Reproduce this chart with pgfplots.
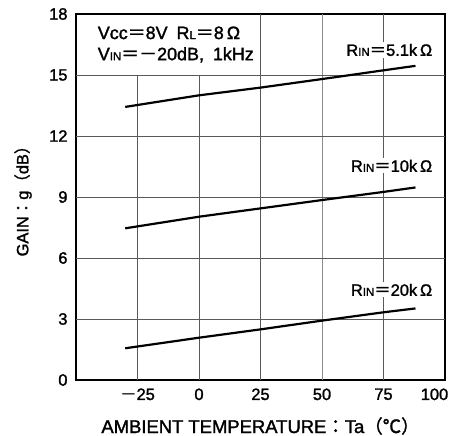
\documentclass[border=0pt]{standalone}
\usepackage{pgfplots}
\pgfplotsset{compat=1.18}
\usepackage{fontspec}
\setmainfont{Liberation Sans}[RawFeature={embolden=1.6}]
\newfontfamily\cjk{Noto Sans CJK JP}[RawFeature={embolden=1.2}]

\newcommand{\eq}{{\cjk ＝}}
\newcommand{\sm}[1]{{\fontsize{11.5}{11.5}\selectfont #1}}

\begin{document}
\begin{tikzpicture}[grd/.style={black!65, line width=0.9pt}]
\begin{axis}[
  scale only axis,
  width=369bp, height=366bp,
  xmin=-50, xmax=100, ymin=0, ymax=18,
  xtick={-25,0,25,50,75,100},
  xticklabels={{\cjk －}25,0,25,50,75,{\hspace*{-21bp}100}},
  ytick={0,3,...,18},
  major tick length=0pt,
  axis line style={line width=2pt},
  /pgf/number format/assume math mode=true,
  ticklabel style={font=\fontsize{16.5}{16.5}\selectfont},
  xticklabel style={yshift=-5bp},
  yticklabel style={xshift=-5bp},
  xlabel={AMBIENT TEMPERATURE{\cjk ：}Ta{\cjk （℃）}},
  ylabel={GAIN{\cjk ：}g{\cjk （}dB{\cjk ）}},
  xlabel style={font=\fontsize{18.5}{18.5}\selectfont,
    at={([yshift=-46bp]axis description cs:0.5,0)}, anchor=center},
  ylabel style={font=\fontsize{16.5}{16.5}\selectfont,
    at={([xshift=-53bp]axis description cs:0,0.5)}, anchor=center},
]
% grid, drawn by hand so that the box of conditions stays clear
\draw[grd] (axis cs:-25,0) -- (axis cs:-25,15);
\draw[grd] (axis cs:0,0) -- (axis cs:0,15);
\draw[grd] (axis cs:25,0) -- (axis cs:25,18);
\draw[grd, black!45] (axis cs:50,0) -- (axis cs:50,18);
\draw[grd] (axis cs:75,0) -- (axis cs:75,18);
\draw[grd] (axis cs:-50,3) -- (axis cs:100,3);
\draw[grd] (axis cs:-50,6) -- (axis cs:100,6);
\draw[grd] (axis cs:-50,9) -- (axis cs:100,9);
\draw[grd] (axis cs:-50,12) -- (axis cs:100,12);
\draw[grd] (axis cs:-50,15) -- (axis cs:100,15);

\addplot[black, line width=2.2pt] coordinates {
  (-30,13.43) (0,14.00) (25,14.38) (50,14.80) (75,15.23) (88,15.45)
};
\addplot[black, line width=2.2pt] coordinates {
  (-30,7.46) (0,8.03) (25,8.44) (50,8.85) (75,9.25) (88,9.47)
};
\addplot[black, line width=2.2pt] coordinates {
  (-30,1.56) (0,2.08) (25,2.49) (50,2.92) (75,3.33) (88,3.52)
};

\node[anchor=east, fill=white, inner sep=1.5bp, font=\fontsize{16.5}{16.5}\selectfont]
  at (axis cs:95.5,16.23) {R\sm{IN}\eq 5.1k\,Ω};
\node[anchor=east, fill=white, inner sep=1.5bp, font=\fontsize{16.5}{16.5}\selectfont]
  at (axis cs:95.5,10.53) {R\sm{IN}\eq 10k\,Ω};
\node[anchor=east, fill=white, inner sep=1.5bp, font=\fontsize{16.5}{16.5}\selectfont]
  at (axis cs:95.5,4.43) {R\sm{IN}\eq 20k\,Ω};

\node[anchor=west, inner sep=0pt, font=\fontsize{18}{18}\selectfont]
  at (axis cs:-41.2,17.07) {Vcc\eq 8V\enspace R\sm{L}\eq 8\,Ω};
\node[anchor=west, inner sep=0pt, font=\fontsize{18}{18}\selectfont]
  at (axis cs:-41.2,15.99) {V\sm{IN}\eq{\cjk －}20dB,\enspace 1kHz};

\coordinate (bl) at (rel axis cs:0,0);
\coordinate (tr) at (rel axis cs:1,1);
\end{axis}
\pgfresetboundingbox
\path[use as bounding box] ([xshift=-76bp,yshift=-56bp]bl) rectangle ([xshift=4bp,yshift=14bp]tr);
\end{tikzpicture}
\end{document}
